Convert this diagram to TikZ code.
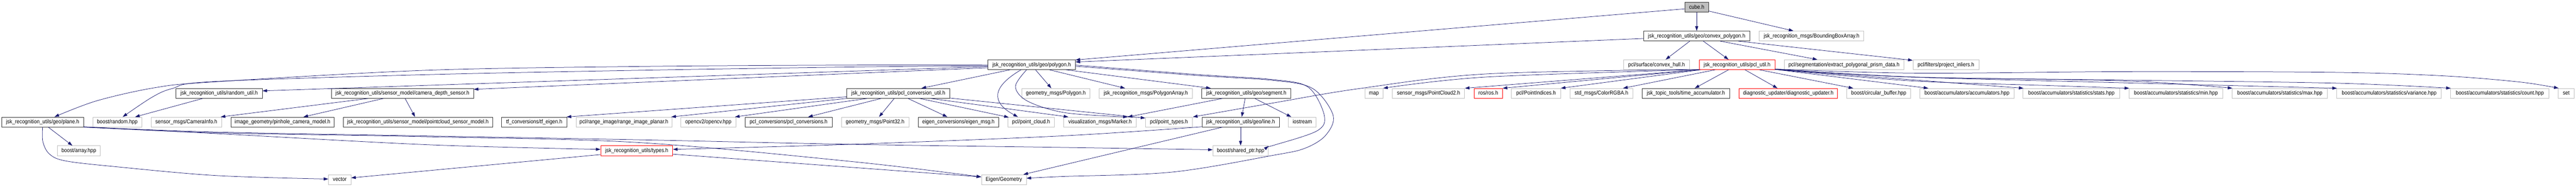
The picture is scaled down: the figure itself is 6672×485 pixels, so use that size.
\documentclass[tikz,border=0pt]{standalone}
\usepackage{fontspec}
\setmainfont{Liberation Sans}[FakeStretch=0.9]
\usetikzlibrary{arrows.meta}
\definecolor{edgec}{HTML}{191970}
\definecolor{greyb}{HTML}{BFBFBF}
\newcommand{\nodefont}{\fontsize{14.5}{16}\selectfont}
\begin{document}
\begin{tikzpicture}[x=1pt,y=-1pt,
  nb/.style={line width=1.1pt, minimum height=25.5pt, inner xsep=2pt, inner ysep=0pt, text height=10.5pt, text depth=2pt, font=\nodefont},
  inc/.style={nb, draw=black!80},
  ext/.style={nb, draw=greyb},
  trunc/.style={nb, draw=red},
  root/.style={nb, draw=black!80, fill=greyb},
  edge/.style={draw=edgec, line width=1pt, -{Triangle[length=12pt,width=8pt]}},
  sm/.style={smooth, tension=0.55}]
\useasboundingbox (0,0) rectangle (6672,485);
% row 0
\node[root, minimum width=62pt] (cube) at (4394.5,18.5) {cube.h};
% row 1
\node[inc, minimum width=275pt] (convex) at (4394.5,93.5) {jsk\_recognition\_utils/geo/convex\_polygon.h};
\node[ext, minimum width=271pt] (bba) at (4692,93.5) {jsk\_recognition\_msgs/BoundingBoxArray.h};
% row 2
\node[inc, minimum width=226pt] (polygon) at (2672,168) {jsk\_recognition\_utils/geo/polygon.h};
\node[ext, minimum width=171pt] (hull) at (4290.5,168) {pcl/surface/convex\_hull.h};
\node[trunc, minimum width=196pt] (pclutil) at (4499,168) {jsk\_recognition\_utils/pcl\_util.h};
\node[ext, minimum width=310pt] (prism) at (4776,168) {pcl/segmentation/extract\_polygonal\_prism\_data.h};
\node[ext, minimum width=171pt] (inliers) at (5040,168) {pcl/filters/project\_inliers.h};
% row 3
\node[inc, minimum width=223pt] (randutil) at (567.7,242.5) {jsk\_recognition\_utils/random\_util.h};
\node[inc, minimum width=368.4pt] (camdepth) at (1042.2,242.5) {jsk\_recognition\_utils/sensor\_model/camera\_depth\_sensor.h};
\node[inc, minimum width=267pt] (pclconv) at (2326.5,242.5) {jsk\_recognition\_utils/pcl\_conversion\_util.h};
\node[ext, minimum width=177pt] (gpoly) at (2734.6,242.5) {geometry\_msgs/Polygon.h};
\node[ext, minimum width=241pt] (polyarr) at (2967.7,242.5) {jsk\_recognition\_msgs/PolygonArray.h};
\node[inc, minimum width=231pt] (segment) at (3228,242.5) {jsk\_recognition\_utils/geo/segment.h};
\node[ext, minimum width=47pt] (nmap) at (3558.4,242.5) {map};
\node[ext, minimum width=187pt] (pc2) at (3700,242.5) {sensor\_msgs/PointCloud2.h};
\node[trunc, minimum width=73.5pt] (ros) at (3854.6,242.5) {ros/ros.h};
\node[ext, minimum width=127pt] (pidx) at (3978.4,242.5) {pcl/PointIndices.h};
\node[ext, minimum width=163pt] (rgba) at (4147.7,242.5) {std\_msgs/ColorRGBA.h};
\node[inc, minimum width=227pt] (timeacc) at (4366.4,242.5) {jsk\_topic\_tools/time\_accumulator.h};
\node[trunc, minimum width=255pt] (diag) at (4631.8,242.5) {diagnostic\_updater/diagnostic\_updater.h};
\node[ext, minimum width=166pt] (circ) at (4866,242.5) {boost/circular\_buffer.hpp};
\node[ext, minimum width=243pt] (acc) at (5094.5,242.5) {boost/accumulators/accumulators.hpp};
\node[ext, minimum width=251pt] (stats) at (5365,242.5) {boost/accumulators/statistics/stats.hpp};
\node[ext, minimum width=243pt] (nmin) at (5635.7,242.5) {boost/accumulators/statistics/min.hpp};
\node[ext, minimum width=247pt] (nmax) at (5905,242.5) {boost/accumulators/statistics/max.hpp};
\node[ext, minimum width=271pt] (var) at (6188,242.5) {boost/accumulators/statistics/variance.hpp};
\node[ext, minimum width=255pt] (count) at (6474.7,242.5) {boost/accumulators/statistics/count.hpp};
\node[ext, minimum width=40.4pt] (nset) at (6646.6,242.5) {set};
% row 4
\node[inc, minimum width=211.4pt] (plane) at (110.4,317) {jsk\_recognition\_utils/geo/plane.h};
\node[ext, minimum width=126.6pt] (brandom) at (303.8,317) {boost/random.hpp};
\node[ext, minimum width=183pt] (caminfo) at (482.5,317) {sensor\_msgs/CameraInfo.h};
\node[inc, minimum width=267pt] (pinhole) at (731.8,317) {image\_geometry/pinhole\_camera\_model.h};
\node[inc, minimum width=387.4pt] (pcsensor) at (1082.3,317) {jsk\_recognition\_utils/sensor\_model/pointcloud\_sensor\_model.h};
\node[inc, minimum width=168.6pt] (tfeigen) at (1383.6,317) {tf\_conversions/tf\_eigen.h};
\node[ext, minimum width=248pt] (rip) at (1616,317) {pcl/range\_image/range\_image\_planar.h};
\node[ext, minimum width=143pt] (opencv) at (1834.5,317) {opencv2/opencv.hpp};
\node[inc, minimum width=226pt] (pclconvs) at (2042.4,317) {pcl\_conversions/pcl\_conversions.h};
\node[ext, minimum width=175pt] (p32) at (2266.5,317) {geometry\_msgs/Point32.h};
\node[inc, minimum width=208pt] (eigmsg) at (2482.3,317) {eigen\_conversions/eigen\_msg.h};
\node[ext, minimum width=120.3pt] (ptcloud) at (2670.5,317) {pcl/point\_cloud.h};
\node[ext, minimum width=188pt] (marker) at (2849,317) {visualization\_msgs/Marker.h};
\node[ext, minimum width=121pt] (ptypes) at (3027.6,317) {pcl/point\_types.h};
\node[inc, minimum width=200pt] (nline) at (3213.2,317) {jsk\_recognition\_utils/geo/line.h};
\node[ext, minimum width=72pt] (iostream) at (3373,317) {iostream};
% row 5
\node[ext, minimum width=112pt] (barray) at (204,391.5) {boost/array.hpp};
\node[trunc, minimum width=186.5pt] (types) at (1649.2,391.5) {jsk\_recognition\_utils/types.h};
\node[ext, minimum width=143.6pt] (sptr) at (3213.2,391.5) {boost/shared\_ptr.hpp};
% row 6
\node[ext, minimum width=58pt] (vector) at (880,466.5) {vector};
\node[ext, minimum width=116pt] (eigengeo) at (2600,466.5) {Eigen/Geometry};

% ---- edges ----
% cube.h
\draw[edge] (cube.south) -- (convex.north);
\draw[edge] ([yshift=3pt]cube.south east) -- ([xshift=-47pt]bba.north);
\draw[edge] ([yshift=-4.5pt]cube.west) -- ([yshift=-1pt]polygon.north east);
% convex_polygon.h
\draw[edge] ([yshift=-6.5pt]convex.west) -- ([yshift=7pt]polygon.east);
\draw[edge] ([xshift=-17.7pt]convex.south) -- ([xshift=23.5pt]hull.north);
\draw[edge] ([xshift=17pt]convex.south) -- ([xshift=-22pt]pclutil.north);
\draw[edge] ([xshift=60.5pt]convex.south) -- ([xshift=-69pt]prism.north);
\draw[edge] ([xshift=107.5pt]convex.south) -- ([yshift=-2pt]inliers.north west);
% polygon.h
\draw[edge] plot[sm] coordinates {([yshift=-1pt]polygon.west) (2210,169) (1650,172.7) (1100,182.7) (550,213) (400,228) (250,262) ([xshift=30.6pt]plane.north)};
\draw[edge] plot[sm] coordinates {([yshift=-3pt]polygon.west) (2210,174) (1650,182.7) (1100,194) (550,212) (446,230) (393,253) ([xshift=14pt]brandom.north)};
\draw[edge] ([yshift=-5pt]polygon.west) -- ([yshift=6.5pt]randutil.east);
\draw[edge] ([yshift=-8pt]polygon.west) -- ([yshift=10.5pt]camdepth.east);
\draw[edge] ([xshift=-56pt]polygon.south) -- ([xshift=60pt]pclconv.north);
\draw[edge] ([xshift=10pt]polygon.south) -- ([xshift=-11.6pt]gpoly.north);
\draw[edge] ([xshift=46pt]polygon.south) -- ([xshift=-53.7pt]polyarr.north);
\draw[edge] ([xshift=89pt]polygon.south) -- ([xshift=-92pt]segment.north);
\draw[edge] ([xshift=-27.4pt]polygon.south) .. controls (2570,225) and (2565,265) .. ([xshift=-34pt]ptcloud.north);
\draw[edge] plot[sm] coordinates {([xshift=-13pt]polygon.south) (2630,225) (2662,263) (2760,293) ([xshift=72pt]marker.north)};
\draw[edge] plot[sm] coordinates {([yshift=-1pt]polygon.east) (3100,193.5) (3300,207) (3389,227) (3430,300) (3411,340) (3300,377) ([yshift=-1pt]sptr.north east)};
\draw[edge] plot[sm] coordinates {([yshift=-4pt]polygon.east) (3100,196) (3300,209) (3400,230) (3453,300) (3433,352) (3380,385) (3300,403) (3036,447) (2750,458.5) ([yshift=3.5pt]eigengeo.east)};
% pcl_conversion_util.h
\draw[edge] ([yshift=1pt]pclconv.south east) -- ([yshift=-3pt]ptypes.north west);
\draw[edge] ([xshift=84.2pt]pclconv.south) -- ([xshift=-82pt]marker.north);
\draw[edge] ([xshift=-10.5pt]pclconv.south) -- ([xshift=10.3pt]p32.north);
\draw[edge] ([xshift=25.3pt]pclconv.south) -- ([xshift=-28.7pt]eigmsg.north);
\draw[edge] ([xshift=55.5pt]pclconv.south) -- ([xshift=3pt,yshift=-1pt]ptcloud.north west);
\draw[edge] ([xshift=-44.5pt]pclconv.south) -- ([xshift=50.5pt]pclconvs.north);
\draw[edge] ([xshift=-80.5pt]pclconv.south) -- ([xshift=-3pt]opencv.north east);
\draw[edge] (pclconv.south west) -- ([xshift=-2pt]rip.north east);
\draw[edge] ([yshift=-9pt]pclconv.west) -- ([xshift=-1pt]tfeigen.north east);
% segment.h
\draw[edge] ([xshift=-62pt]segment.south) -- ([xshift=72pt]marker.north);
\draw[edge] ([xshift=-3pt]segment.south) -- ([xshift=3pt]nline.north);
\draw[edge] ([xshift=22pt]segment.south) -- ([xshift=8pt]iostream.north west);
% pcl_util.h
\draw[edge] plot[sm] coordinates {([yshift=1pt]pclutil.south west) (3850,192) (3521,230) (3300,267) ([xshift=1pt]ptypes.north east)};
\draw[edge] plot[sm] coordinates {([yshift=0.5pt]pclutil.south west) (3850,200) (nmap.north east)};
\draw[edge] (pclutil.south west) -- (pc2.north east);
\draw[edge] (pclutil.south west) -- (ros.north east);
\draw[edge] ([xshift=4pt]pclutil.south west) -- (pidx.north east);
\draw[edge] ([xshift=42pt]pclutil.south west) -- ([xshift=56pt]rgba.north);
\draw[edge] ([xshift=-22pt]pclutil.south) -- ([xshift=23pt]timeacc.north);
\draw[edge] ([xshift=20.6pt]pclutil.south) -- ([xshift=-28pt]diag.north);
\draw[edge] ([xshift=58pt]pclutil.south) -- ([xshift=-66pt]circ.north);
\draw[edge] ([yshift=1pt]pclutil.south east) -- ([xshift=22pt]acc.north west);
\draw[edge] ([yshift=1pt]pclutil.south east) -- ([xshift=2pt]stats.north west);
\draw[edge] plot[sm] coordinates {([yshift=1pt]pclutil.south east) (4950,210) (5300,222) ([xshift=1pt]nmin.north west)};
\draw[edge] plot[sm] coordinates {([yshift=1.5pt]pclutil.south east) (4950,200) (5500,210) ([xshift=1pt]nmax.north west)};
\draw[edge] plot[sm] coordinates {([yshift=1.5pt]pclutil.south east) (4950,200) (5500,215) ([xshift=1pt]var.north west)};
\draw[edge] plot[sm] coordinates {([yshift=1.5pt]pclutil.south east) (4950,200) (5500,208) (6050,216) ([xshift=1pt]count.north west)};
\draw[edge] plot[sm] coordinates {([yshift=2pt]pclutil.south east) (4960,190) (5510,186) (6050,188) (6328,197) (6526,213) ([xshift=1pt]nset.north west)};
% line.h
\draw[edge] (nline.south) -- (sptr.north);
\draw[edge] plot[sm] coordinates {([yshift=1pt]nline.south west) (2750,353) (2200,375) ([yshift=3.5pt]types.east)};
\draw[edge] ([xshift=-47pt]nline.south) -- ([xshift=-8pt]eigengeo.north east);
% types.h
\draw[edge] ([yshift=-10pt]types.west) -- ([yshift=4.5pt]vector.east);
\draw[edge] ([yshift=-9pt]types.east) -- ([yshift=7pt]eigengeo.west);
% plane.h
\draw[edge] ([xshift=14.6pt]plane.south) -- ([xshift=-16.5pt]barray.north);
\draw[edge] plot[sm] coordinates {(plane.south) (111,368) (128,400) (170,418) (300,433) (560,456) ([yshift=1.5pt]vector.west)};
\draw[edge] plot[sm] coordinates {([yshift=1pt]plane.south east) (560,347) (1110,376) ([yshift=3.5pt]types.west)};
\draw[edge] plot[sm] coordinates {([yshift=0.5pt]plane.south east) (560,343) (1100,353) (1650,363) (2210,375) (2760,383) ([yshift=2.5pt]sptr.west)};
\draw[edge] plot[sm] coordinates {(plane.south east) (560,345) (1100,355) (1650,370) (2210,420) ([yshift=7pt]eigengeo.west)};
% random_util.h, camera_depth_sensor.h
\draw[edge] ([xshift=-42.7pt]randutil.south) -- ([xshift=46pt]brandom.north);
\draw[edge] ([xshift=-88.6pt]camdepth.south) -- ([xshift=-3pt]caminfo.north east);
\draw[edge] ([xshift=-49pt]camdepth.south) -- ([xshift=54pt]pinhole.north);
\draw[edge] ([xshift=7pt]camdepth.south) -- ([xshift=-7.3pt]pcsensor.north);
\end{tikzpicture}
\end{document}
